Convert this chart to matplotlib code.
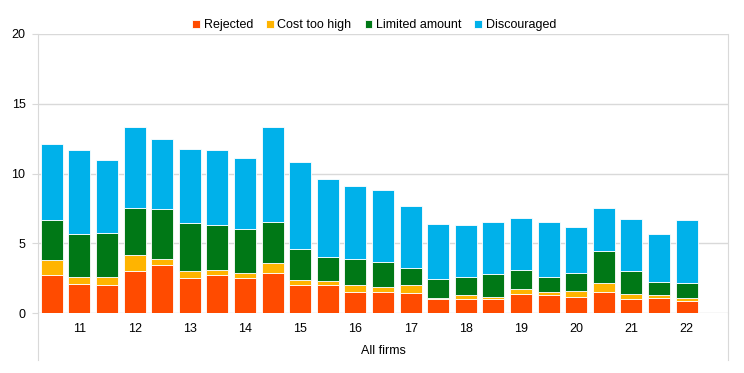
import numpy as np
import matplotlib.pyplot as plt

plt.rcParams['font.family'] = ['Liberation Sans', 'DejaVu Sans']

# half-yearly survey rounds, labelled once a year
years = ['11', '12', '13', '14', '15', '16', '17', '18', '19', '20', '21', '22']

rejected = [2.77, 2.12, 2.00, 3.03, 3.48, 2.55, 2.72, 2.55, 2.86, 2.00, 2.00, 1.55,
            1.55, 1.43, 1.00, 1.05, 1.00, 1.38, 1.29, 1.19, 1.55, 1.00, 1.10, 0.86]
cost_too_high = [1.02, 0.50, 0.58, 1.15, 0.43, 0.50, 0.36, 0.34, 0.74, 0.39, 0.29, 0.50,
                 0.33, 0.57, 0.12, 0.24, 0.19, 0.34, 0.21, 0.38, 0.60, 0.41, 0.19, 0.24]
limited_amount = [2.92, 3.06, 3.15, 3.36, 3.59, 3.39, 3.27, 3.17, 2.92, 2.24, 1.72, 1.86,
                  1.82, 1.27, 1.36, 1.29, 1.65, 1.41, 1.12, 1.34, 2.34, 1.60, 0.93, 1.07]
discouraged = [5.44, 6.02, 5.27, 5.81, 4.99, 5.33, 5.37, 5.06, 6.83, 6.18, 5.61, 5.18,
               5.16, 4.44, 3.89, 3.75, 3.70, 3.70, 3.90, 3.27, 3.08, 3.72, 3.48, 4.49]

series = [('Rejected', rejected, '#FF4B00'),
          ('Cost too high', cost_too_high, '#FFB400'),
          ('Limited amount', limited_amount, '#007816'),
          ('Discouraged', discouraged, '#00B1EA')]

fs = 9

fig = plt.figure(figsize=(7.44, 3.73), dpi=100)
ax = fig.add_axes([38 / 744, 1 - 313.3 / 373, 690 / 744, 279.3 / 373])

x = np.arange(len(rejected))
bottom = np.zeros(len(rejected))
for name, vals, col in series:
    vals = np.array(vals)
    ax.bar(x, vals, 0.8, bottom=bottom, color=col, label=name,
           edgecolor='#ffffff', linewidth=0.6, zorder=3)
    bottom += vals

ax.set_xlim(-0.5, 24.5)
ax.set_ylim(0, 20)
ax.set_yticks([0, 5, 10, 15, 20])
ax.set_xticks(np.arange(1, 24, 2))
ax.set_xticklabels(years)
ax.tick_params(axis='x', length=0, pad=7, labelsize=fs)
ax.tick_params(axis='y', length=4, width=0.8, color='#d9d9d9', pad=5, labelsize=fs)
ax.grid(axis='y', color='#d9d9d9', linewidth=1, zorder=0)

for s in ['top', 'bottom']:
    ax.spines[s].set_visible(False)
for s in ['left', 'right']:
    ax.spines[s].set_color('#d9d9d9')
    ax.spines[s].set_linewidth(0.8)
    ax.spines[s].set_bounds(0, 20)

# extend side borders down through the category area
ext = 47 / 279.3
for xs in (0, 1):
    ax.plot([xs, xs], [0, -ext], transform=ax.transAxes, color='#d9d9d9',
            linewidth=0.8, clip_on=False)

ax.text(0.5, -37.5 / 279.3, 'All firms', transform=ax.transAxes,
        ha='center', va='center', fontsize=fs)

ax.legend(loc='center', bbox_to_anchor=(0.503, 1 - 25 / 373),
          bbox_transform=fig.transFigure, ncol=4, frameon=False, fontsize=fs,
          handlelength=0.6, handleheight=0.6, handletextpad=0.3,
          columnspacing=1.05, borderpad=0)

fig.savefig('out.png', dpi=100)
